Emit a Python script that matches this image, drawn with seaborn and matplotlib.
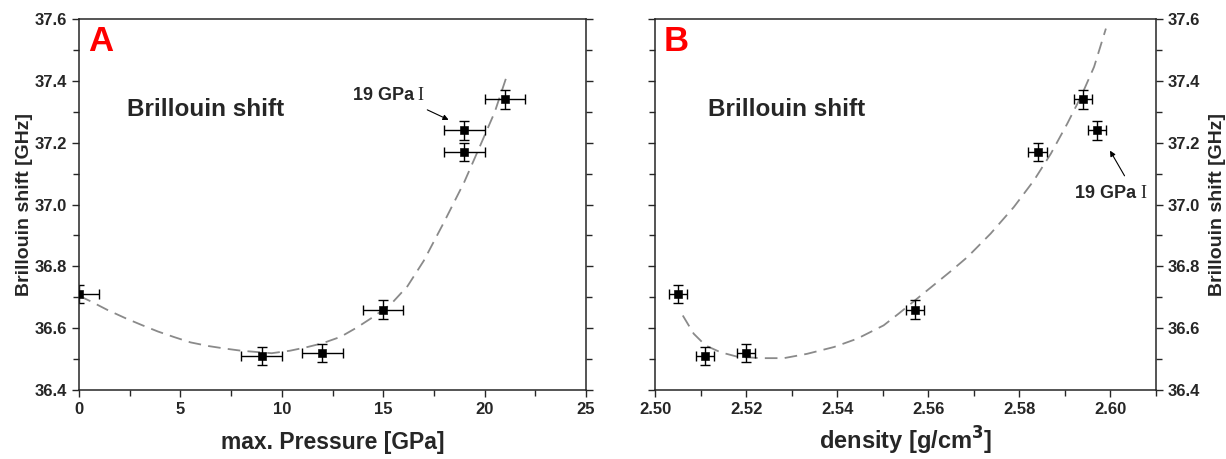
import numpy as np
import matplotlib
matplotlib.use("Agg")
import matplotlib.pyplot as plt
from matplotlib.ticker import MultipleLocator, FormatStrFormatter
import seaborn as sns

# data
pressure = [0, 9, 12, 15, 19, 19, 21]
shift_a = [36.71, 36.51, 36.52, 36.66, 37.24, 37.17, 37.34]
pressure_err = [1, 1, 1, 1, 1, 1, 1]

density = [2.505, 2.511, 2.520, 2.557, 2.584, 2.594, 2.597]
shift_b = [36.71, 36.51, 36.52, 36.66, 37.17, 37.34, 37.24]
density_err = [0.002] * 7

shift_err = [0.03] * 7

# dashed guide curves
fit_a_x = [0, 0.6, 1.4, 2.3, 3.1, 3.9, 4.7, 5.5, 6.4, 7.2, 8.0, 9.5, 10.4, 11.2,
           12.0, 12.9, 13.7, 14.5, 15.4, 16.2, 17.0, 18.0, 19.0, 19.8, 20.5, 21.1]
fit_a_y = [36.705, 36.686, 36.659, 36.632, 36.610, 36.589, 36.571, 36.554, 36.542,
           36.534, 36.527, 36.519, 36.527, 36.538, 36.551, 36.572, 36.602, 36.636,
           36.679, 36.736, 36.818, 36.943, 37.073, 37.193, 37.299, 37.417]

fit_b_x = [2.5061, 2.5085, 2.5111, 2.5144, 2.5180, 2.5231, 2.5283, 2.5334, 2.5393,
           2.5444, 2.5502, 2.5535, 2.5570, 2.5610, 2.5650, 2.5686, 2.5737, 2.5788,
           2.5832, 2.5869, 2.5905, 2.5935, 2.5964, 2.5990]
fit_b_y = [36.641, 36.582, 36.544, 36.522, 36.508, 36.503, 36.503, 36.517, 36.539,
           36.566, 36.609, 36.647, 36.689, 36.737, 36.785, 36.830, 36.906, 36.992,
           37.078, 37.164, 37.261, 37.348, 37.445, 37.569]

sns.set_style("ticks")
plt.rcParams['font.family'] = ['Liberation Sans', 'DejaVu Sans']
plt.rcParams['font.weight'] = 'bold'
plt.rcParams['axes.labelweight'] = 'bold'
plt.rcParams['axes.linewidth'] = 1.1

fig = plt.figure(figsize=(12.26, 4.59), dpi=100)
W, H = 1226, 459
bottom = 1 - 390 / H
height = (390 - 19) / H
axA = fig.add_axes([79 / W, bottom, (586 - 79) / W, height])
axB = fig.add_axes([655 / W, bottom, (1156 - 655) / W, height])


def draw(ax, x, y, xerr, fx, fy):
    sns.lineplot(x=fx, y=fy, ax=ax, color='#8a8a8a', linewidth=1.3,
                 linestyle='--', zorder=1)
    ax.lines[-1].set_dashes((7, 4))
    ax.errorbar(x, y, xerr=xerr, yerr=shift_err, fmt='none', ecolor='black',
                elinewidth=1.0, capsize=3.5, capthick=1.0, zorder=2)
    sns.scatterplot(x=x, y=y, ax=ax, marker='s', s=30, color='black',
                    edgecolor='black', zorder=3)
    ax.set_ylim(36.4, 37.6)
    ax.yaxis.set_major_locator(MultipleLocator(0.2))
    ax.yaxis.set_minor_locator(MultipleLocator(0.1))
    ax.yaxis.set_major_formatter(FormatStrFormatter('%.1f'))
    ax.tick_params(which='both', labelsize=12, width=1.0)
    ax.tick_params(which='major', length=5)
    ax.tick_params(which='minor', length=4)
    for lab in ax.get_xticklabels() + ax.get_yticklabels():
        lab.set_fontweight('bold')


# panel A
draw(axA, pressure, shift_a, pressure_err, fit_a_x, fit_a_y)
axA.set_xlim(0, 25)
axA.xaxis.set_major_locator(MultipleLocator(5))
axA.xaxis.set_minor_locator(MultipleLocator(2.5))
axA.tick_params(axis='y', which='both', right=True, labelright=False)
axA.set_xlabel('max. Pressure [GPa]', fontsize=16.5, labelpad=10)
axA.set_ylabel('Brillouin shift [GHz]', fontsize=14, labelpad=1.5)
axA.text(0.018, 0.985, 'A', transform=axA.transAxes, color='red', fontsize=25,
         fontweight='bold', va='top', ha='left')
axA.text(0.095, 0.755, 'Brillouin shift', transform=axA.transAxes, fontsize=17.5,
         fontweight='bold', va='center', ha='left')
axA.annotate('', xy=(18.35, 37.27), xytext=(17.05, 37.31),
             arrowprops=dict(arrowstyle='-|>', color='black', lw=0.8,
                             mutation_scale=8))
axA.text(13.5, 37.352, '19 GPa', fontsize=13, fontweight='bold',
         va='center', ha='left')
axA.text(16.7, 37.352, 'I', fontsize=13, fontweight='normal',
         family='Liberation Serif', va='center', ha='left')

# panel B
draw(axB, density, shift_b, density_err, fit_b_x, fit_b_y)
axB.set_xlim(2.50, 2.61)
axB.xaxis.set_major_locator(MultipleLocator(0.02))
axB.xaxis.set_minor_locator(MultipleLocator(0.01))
axB.xaxis.set_major_formatter(FormatStrFormatter('%.2f'))
axB.tick_params(axis='y', which='both', left=True, right=True,
                labelleft=False, labelright=True)
axB.yaxis.set_label_position('right')
axB.set_xlabel('density [g/cm$^\\mathbf{3}$]', fontsize=17, labelpad=6)
axB.set_ylabel('Brillouin shift [GHz]', fontsize=14, labelpad=6)
axB.text(0.018, 0.985, 'B', transform=axB.transAxes, color='red', fontsize=25,
         fontweight='bold', va='top', ha='left')
axB.text(0.105, 0.755, 'Brillouin shift', transform=axB.transAxes, fontsize=17.5,
         fontweight='bold', va='center', ha='left')
axB.annotate('', xy=(2.5996, 37.182), xytext=(2.6034, 37.085),
             arrowprops=dict(arrowstyle='-|>', color='black', lw=0.8,
                             mutation_scale=8))
axB.text(2.5923, 37.035, '19 GPa', fontsize=13, fontweight='bold',
         va='center', ha='left')
axB.text(2.6065, 37.035, 'I', fontsize=13, fontweight='normal',
         family='Liberation Serif', va='center', ha='left')

plt.savefig('out.png', dpi=100)
